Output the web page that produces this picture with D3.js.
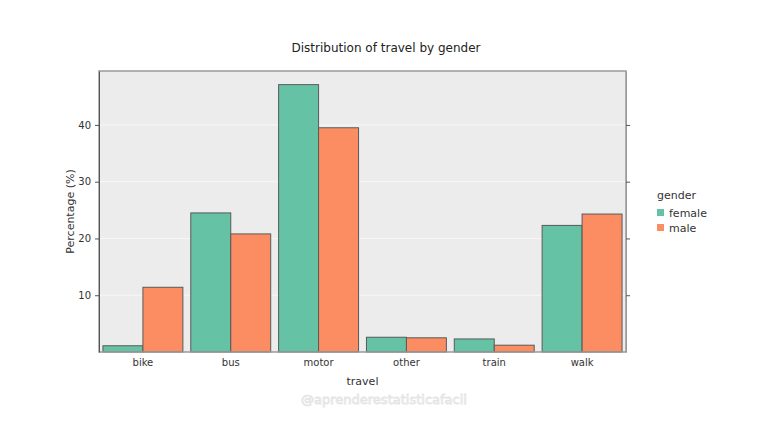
<!DOCTYPE html>
<html>
<head>
<meta charset="utf-8">
<script src="https://cdn.jsdelivr.net/npm/d3@7"></script>
<style>
  body { margin: 0; background: #fff; }
  text { font-family: "DejaVu Sans", Verdana, sans-serif; }
</style>
</head>
<body>
<div id="chart"></div>
<script>
// data
const travel = ["bike", "bus", "motor", "other", "train", "walk"];
const genders = ["female", "male"];
const female = [1.1, 24.5, 47.1, 2.6, 2.3, 22.3];
const male = [11.4, 20.8, 39.5, 2.5, 1.2, 24.3];
const yTicks = [10, 20, 30, 40];
const colors = ["#66c2a5", "#fc8d62"];

const width = 768, height = 432;
const margin = { top: 71, right: 142, bottom: 80, left: 99 };
const pw = width - margin.left - margin.right;
const ph = height - margin.top - margin.bottom;

const rows = travel.map((t, i) => ({ travel: t, female: female[i], male: male[i] }));

const svg = d3.select("#chart").append("svg")
  .attr("width", width)
  .attr("height", height);

const g = svg.append("g").attr("transform", `translate(${margin.left},${margin.top})`);

const x = d3.scaleBand().domain(travel).range([0, pw]).paddingInner(0.09).paddingOuter(0.045);
const xi = d3.scaleBand().domain(genders).range([0, x.bandwidth()]);
const y = d3.scaleLinear().domain([0, 49.5]).range([ph, 0]);

// panel
g.append("rect")
  .attr("width", pw)
  .attr("height", ph)
  .attr("fill", "#ececec");

// grid
g.selectAll(".grid")
  .data(yTicks)
  .enter()
  .append("line")
  .attr("x1", 0)
  .attr("x2", pw)
  .attr("y1", (d) => y(d))
  .attr("y2", (d) => y(d))
  .attr("stroke", "#f7f7f7")
  .attr("stroke-width", 1);

// bars
g.selectAll(".grp")
  .data(rows)
  .enter()
  .append("g")
  .attr("transform", (d) => `translate(${x(d.travel)},0)`)
  .selectAll("rect")
  .data((d) => genders.map((k) => ({ key: k, value: d[k] })))
  .enter()
  .append("rect")
  .attr("x", (d) => xi(d.key))
  .attr("width", xi.bandwidth())
  .attr("y", (d) => y(d.value))
  .attr("height", (d) => ph - y(d.value))
  .attr("fill", (d, i) => colors[i])
  .attr("stroke", "#5a5a5a")
  .attr("stroke-width", 1);

// border
g.append("rect")
  .attr("width", pw)
  .attr("height", ph)
  .attr("fill", "none")
  .attr("stroke", "#9a9a9a")
  .attr("stroke-width", 1.5);

// left axis
const yAxis = g.append("g")
  .call(d3.axisLeft(y).tickValues(yTicks).tickSize(4).tickSizeOuter(0).tickPadding(4));
yAxis.select(".domain").attr("stroke", "#555");
yAxis.selectAll(".tick line").attr("stroke", "#555");
yAxis.selectAll("text").attr("fill", "#333").style("font-size", "10px");

// right axis, no labels
const yAxisR = g.append("g")
  .attr("transform", `translate(${pw},0)`)
  .call(d3.axisRight(y).tickValues(yTicks).tickSize(4).tickSizeOuter(0).tickFormat(""));
yAxisR.select(".domain").attr("stroke", "#999");
yAxisR.selectAll(".tick line").attr("stroke", "#555");

// x axis
const xAxis = g.append("g")
  .attr("transform", `translate(0,${ph})`)
  .call(d3.axisBottom(x).tickSize(0).tickPadding(7));
xAxis.select(".domain").remove();
xAxis.selectAll("text").attr("fill", "#333").style("font-size", "10px");

// title and labels
svg.append("text")
  .attr("x", 386)
  .attr("y", 52)
  .attr("text-anchor", "middle")
  .attr("fill", "#222")
  .style("font-size", "12px")
  .text("Distribution of travel by gender");

svg.append("text")
  .attr("x", margin.left + pw / 2)
  .attr("y", 385)
  .attr("text-anchor", "middle")
  .attr("fill", "#333")
  .style("font-size", "11px")
  .text("travel");

svg.append("text")
  .attr("transform", `translate(74,${margin.top + ph / 2}) rotate(-90)`)
  .attr("text-anchor", "middle")
  .attr("fill", "#333")
  .style("font-size", "11px")
  .text("Percentage (%)");

// legend
const legend = svg.append("g").attr("transform", "translate(657,0)");
legend.append("text")
  .attr("x", 0)
  .attr("y", 199)
  .attr("fill", "#333")
  .style("font-size", "11px")
  .text("gender");
legend.selectAll(".key")
  .data(genders)
  .enter()
  .append("g")
  .attr("transform", (d, i) => `translate(0,${213 + i * 15})`)
  .each(function (d, i) {
    const k = d3.select(this);
    k.append("rect").attr("x", 0).attr("y", -4).attr("width", 7).attr("height", 7).attr("fill", colors[i]);
    k.append("text").attr("x", 12).attr("y", 4).attr("fill", "#333").style("font-size", "11px").text(d);
  });

// watermark
svg.append("text")
  .attr("x", 384)
  .attr("y", 404)
  .attr("text-anchor", "middle")
  .attr("fill", "#fafafa")
  .attr("stroke", "#e4e4e4")
  .attr("stroke-width", 0.8)
  .style("font-size", "13px")
  .text("@aprenderestatisticafacil");
</script>
</body>
</html>
